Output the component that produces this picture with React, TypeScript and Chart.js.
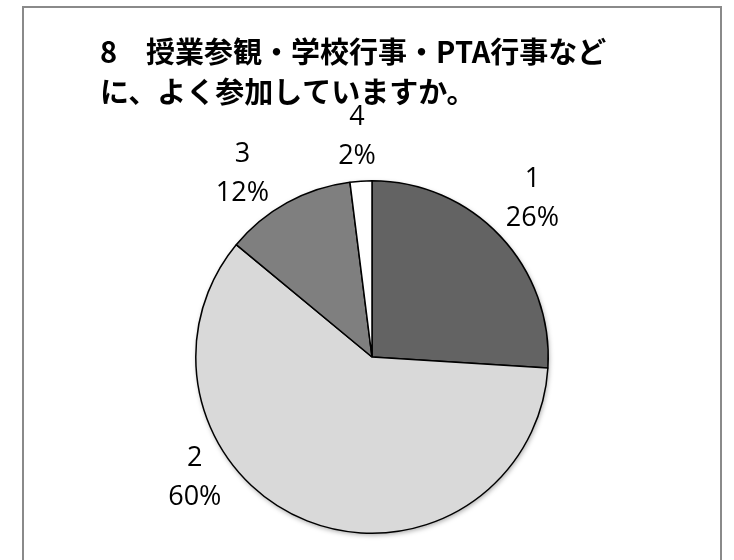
import React, { useEffect, useRef } from "react";
import { Chart, registerables } from "chart.js";

Chart.register(...registerables);

const titleLines = ["8\u3000授業参観・学校行事・PTA行事など", "に、よく参加していますか。"];
const categories = ["1", "2", "3", "4"];
const values = [26, 60, 12, 2];
const sliceColors = ["#636363", "#d9d9d9", "#7f7f7f", "#ffffff"];

// label placement (Excel "best fit" result): angle shift (deg) and gap from rim (px)
const labelShiftDeg = [-1.4, 34.2, -6.5, -0.3];
const labelGap = [49, 38, 48, 44];

const framePlugin = {
  id: "frame",
  beforeDraw(chart: any) {
    const ctx = chart.ctx;
    ctx.save();
    ctx.fillStyle = "#ffffff";
    ctx.fillRect(0, 0, chart.width, chart.height);
    ctx.strokeStyle = "#8a8a8a";
    ctx.lineWidth = 2;
    ctx.strokeRect(23, 7, 698, 620);
    ctx.restore();
  },
  beforeDatasetsDraw(chart: any) {
    const arc = chart.getDatasetMeta(0).data[0];
    if (!arc) return;
    const p = arc.getProps(["x", "y", "outerRadius"], true);
    const ctx = chart.ctx;
    ctx.save();
    ctx.shadowColor = "rgba(0,0,0,0.35)";
    ctx.shadowBlur = 5;
    ctx.shadowOffsetX = 1;
    ctx.shadowOffsetY = 2;
    ctx.fillStyle = "#ffffff";
    ctx.beginPath();
    ctx.arc(p.x, p.y, p.outerRadius, 0, Math.PI * 2);
    ctx.fill();
    ctx.restore();
  },
};

const labelPlugin = {
  id: "pieLabels",
  afterDatasetsDraw(chart: any) {
    const ctx = chart.ctx;
    const meta = chart.getDatasetMeta(0);
    const data = chart.data.datasets[0].data as number[];
    const total = data.reduce((a, b) => a + b, 0);
    ctx.save();
    ctx.font = "27px 'Open Sans'";
    ctx.fillStyle = "#000000";
    ctx.textAlign = "center";
    ctx.textBaseline = "middle";
    meta.data.forEach((arc: any, i: number) => {
      const p = arc.getProps(["x", "y", "startAngle", "endAngle", "outerRadius"], true);
      const mid = (p.startAngle + p.endAngle) / 2 + (labelShiftDeg[i] * Math.PI) / 180;
      const d = p.outerRadius + labelGap[i];
      const cx = p.x + Math.cos(mid) * d;
      const cy = p.y + Math.sin(mid) * d;
      const pct = Math.round((data[i] / total) * 100) + "%";
      ctx.fillText(chart.data.labels[i], cx, cy - 19.5);
      ctx.fillText(pct, cx, cy + 19.5);
    });
    ctx.restore();
  },
};

export default function App() {
  const ref = useRef<HTMLCanvasElement>(null);
  useEffect(() => {
    if (!ref.current) return;
    const chart = new Chart(ref.current, {
      type: "pie",
      data: {
        labels: categories,
        datasets: [
          {
            data: values,
            backgroundColor: sliceColors,
            borderColor: "#000000",
            borderWidth: 1.5,
            hoverOffset: 0,
          },
        ],
      },
      options: {
        responsive: false,
        animation: false,
        layout: { padding: { left: 100, right: 90, top: 0, bottom: 26 } },
        plugins: {
          legend: { display: false },
          tooltip: { enabled: false },
          title: {
            display: true,
            text: titleLines,
            align: "start",
            color: "#000000",
            font: { family: "'Noto Sans CJK JP'", size: 29, weight: "bold", lineHeight: 1.38 },
            padding: { top: 32, bottom: 68 },
          },
        },
      },
      plugins: [framePlugin, labelPlugin],
    });
    return () => chart.destroy();
  }, []);
  return (
    <div style={{ position: "absolute", left: 0, top: 0, width: 734, height: 560 }}>
      <canvas ref={ref} width={734} height={560} style={{ width: 734, height: 560 }} />
    </div>
  );
}
